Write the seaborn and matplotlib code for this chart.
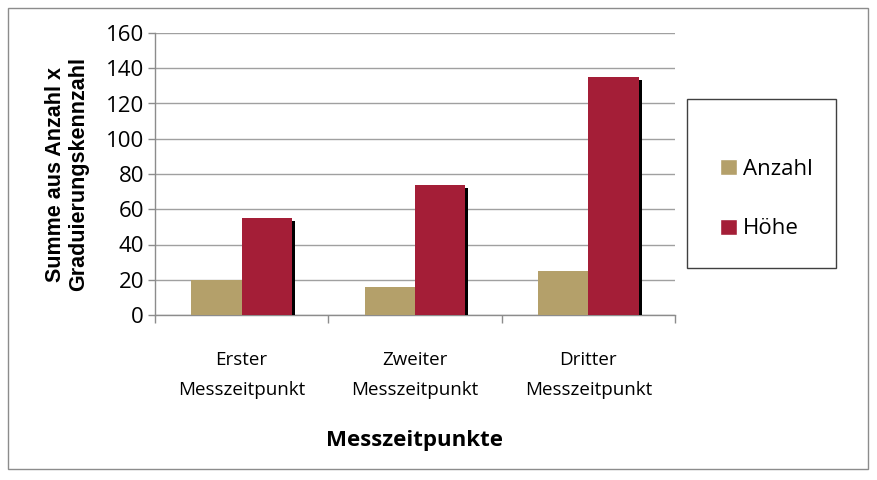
import pandas as pd
import seaborn as sns
import matplotlib.pyplot as plt
import matplotlib.patheffects as pe
from matplotlib.patches import Rectangle, Patch

# values
zeitpunkte = ['Erster\nMesszeitpunkt', 'Zweiter\nMesszeitpunkt', 'Dritter\nMesszeitpunkt']
anzahl = [20, 16, 25]
hoehe = [55, 74, 135]
serien = ['Anzahl', 'Höhe']
farben = ['#B4A06A', '#A41E37']
y_ticks = [0, 20, 40, 60, 80, 100, 120, 140, 160]

df = pd.DataFrame({
    'Messzeitpunkt': zeitpunkte * 2,
    'Wert': anzahl + hoehe,
    'Serie': [serien[0]] * 3 + [serien[1]] * 3,
})

sns.set_style('white')
plt.rcParams['font.family'] = ['Open Sans', 'DejaVu Sans']
plt.rcParams['text.color'] = 'black'

fig = plt.figure(figsize=(8.77, 4.8), dpi=100)
W, H = 877, 480
ax = fig.add_axes([155 / W, 1 - 315 / H, 520 / W, 282 / H])

sns.barplot(data=df, x='Messzeitpunkt', y='Wert', hue='Serie', palette=farben,
            width=0.58, saturation=1, errorbar=None, ax=ax, legend=False, zorder=3,
            linewidth=0, edgecolor='none')

# drop shadow on the bars
for p in ax.patches:
    p.set_path_effects([pe.SimplePatchShadow(offset=(2.2, -2.2), shadow_rgbFace='black', alpha=1),
                        pe.Normal()])

ax.set_ylim(0, 160)
ax.set_xlim(-0.5, 2.5)
ax.set_yticks(y_ticks)
ax.set_yticklabels([str(t) for t in y_ticks], fontsize=16)
ax.tick_params(axis='y', length=5, width=1, color='#8c8c8c', direction='out', left=True, pad=3,
               labelcolor='black')
ax.tick_params(axis='x', length=0, labelsize=13.5, pad=26, labelcolor='black')
ax.set_xticks([-0.5, 0.5, 1.5, 2.5], minor=True)
ax.tick_params(axis='x', which='minor', length=6, width=1, color='#8c8c8c', direction='out', bottom=True)
ax.yaxis.grid(True, color='#a0a0a0', linewidth=1)
ax.set_axisbelow(True)
for s in ['top', 'right']:
    ax.spines[s].set_visible(False)
for s in ['left', 'bottom']:
    ax.spines[s].set_color('#8c8c8c')
    ax.spines[s].set_linewidth(1)

for lbl in ax.get_xticklabels():
    lbl.set_linespacing(1.85)

ax.set_xlabel('Messzeitpunkte', fontsize=16, fontweight='bold', labelpad=22, color='black')
ax.set_ylabel('Summe aus Anzahl x\nGraduierungskennzahl', fontsize=15.5, fontweight='bold',
              family='Liberation Sans', labelpad=12, linespacing=1.1, color='black')

# legend box
fig.patches.append(Rectangle((687 / W, 1 - 268 / H), 149 / W, 169 / H, transform=fig.transFigure,
                             facecolor='white', edgecolor='#404040', linewidth=1))
handles = [Patch(facecolor=c, label=s) for c, s in zip(farben, serien)]
fig.legend(handles=handles, loc='center left', bbox_to_anchor=(720 / W, 1 - 199 / H), frameon=False,
           fontsize=16, handlelength=0.75, handleheight=0.75, handletextpad=0.3, labelspacing=1.75,
           borderpad=0, borderaxespad=0)

# outer chart border
fig.patches.append(Rectangle((8 / W, 1 - 469 / H), 860 / W, 461 / H, transform=fig.transFigure,
                             facecolor='none', edgecolor='#8c8c8c', linewidth=1))

fig.savefig('out.png', dpi=100)
